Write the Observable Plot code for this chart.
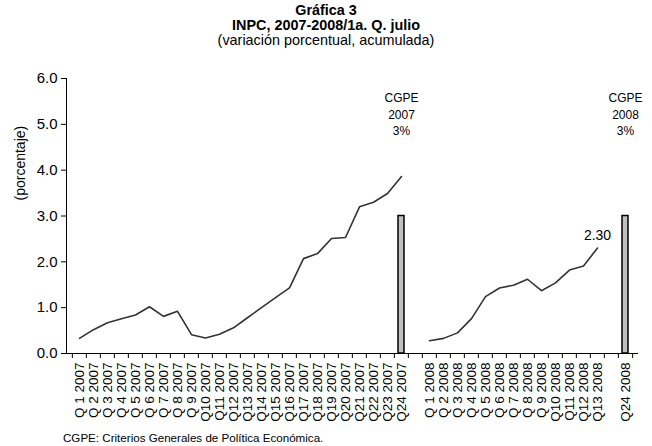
<!DOCTYPE html>
<html>
<head>
<meta charset="utf-8">
<script src="https://cdn.jsdelivr.net/npm/d3@7"></script>
<script src="https://cdn.jsdelivr.net/npm/@observablehq/plot@0.6"></script>
<style>
  html, body { margin: 0; padding: 0; background: #fff; }
  body { width: 652px; height: 446px; overflow: hidden; font-family: "Liberation Sans", Arial, sans-serif; color: #000; }
  #title { padding-top: 2.5px; height: 45.5px; text-align: center; font-size: 14.4px; line-height: 15px; white-space: nowrap; }
  #title .b { font-weight: bold; }
  #caption { font-size: 11.6px; line-height: 15px; padding-left: 63px; white-space: nowrap; }
  svg { display: block; }
</style>
</head>
<body>
<div id="title">
  <div class="b">Gráfica 3</div>
  <div class="b">INPC, 2007-2008/1a. Q. julio</div>
  <div>(variación porcentual, acumulada)</div>
</div>
<div id="chart"></div>
<div id="caption">CGPE: Criterios Generales de Política Económica.</div>
<script>
// Category axis (tick labels); blanks are spacer slots
const categories = [
  "Q 1 2007","Q 2 2007","Q 3 2007","Q 4 2007","Q 5 2007","Q 6 2007","Q 7 2007","Q 8 2007","Q 9 2007","Q10 2007",
  "Q11 2007","Q12 2007","Q13 2007","Q14 2007","Q15 2007","Q16 2007","Q17 2007","Q18 2007","Q19 2007","Q20 2007",
  "Q21 2007","Q22 2007","Q23 2007","Q24 2007"," ",
  "Q 1 2008","Q 2 2008","Q 3 2008","Q 4 2008","Q 5 2008","Q 6 2008","Q 7 2008","Q 8 2008","Q 9 2008","Q10 2008",
  "Q11 2008","Q12 2008","Q13 2008","  ","Q24 2008"
];

// INPC 2007, accumulated % change
const labels2007 = [
  "Q 1 2007","Q 2 2007","Q 3 2007","Q 4 2007","Q 5 2007","Q 6 2007","Q 7 2007","Q 8 2007","Q 9 2007","Q10 2007",
  "Q11 2007","Q12 2007","Q13 2007","Q14 2007","Q15 2007","Q16 2007","Q17 2007","Q18 2007","Q19 2007","Q20 2007",
  "Q21 2007","Q22 2007","Q23 2007","Q24 2007"
];
const values2007 = [0.33,0.52,0.67,0.76,0.84,1.02,0.81,0.92,0.41,0.34,0.42,0.56,0.78,1.00,1.22,1.43,2.07,2.18,2.51,2.53,3.20,3.30,3.49,3.86];

// INPC 2008, accumulated % change
const labels2008 = [
  "Q 1 2008","Q 2 2008","Q 3 2008","Q 4 2008","Q 5 2008","Q 6 2008","Q 7 2008","Q 8 2008","Q 9 2008","Q10 2008",
  "Q11 2008","Q12 2008","Q13 2008"
];
const values2008 = [0.28,0.33,0.45,0.76,1.24,1.43,1.49,1.62,1.37,1.54,1.82,1.91,2.30];

// CGPE targets
const cgpeLabels = ["Q24 2007","Q24 2008"];
const cgpeValues = [3,3];
const cgpeTexts = ["CGPE\n2007\n3%","CGPE\n2008\n3%"];

const yTicks = [0,1,2,3,4,5,6];

const s2007 = labels2007.map((c,i) => ({cat: c, v: values2007[i]}));
const s2008 = labels2008.map((c,i) => ({cat: c, v: values2008[i]}));
const cgpe = cgpeLabels.map((c,i) => ({cat: c, v: cgpeValues[i], t: cgpeTexts[i]}));
const last2008 = [s2008[s2008.length - 1]];

const W = 652, H = 382, ML = 66, MR = 14, MT = 30, MB = 77;
const step = (W - ML - MR) / categories.length;
const font = "Liberation Sans, Arial, sans-serif";

const chart = Plot.plot({
  width: W, height: H,
  marginLeft: ML, marginRight: MR, marginTop: MT, marginBottom: MB,
  style: {fontFamily: font, fontSize: "13px", color: "#000", background: "#fff"},
  x: {type: "band", domain: categories, padding: 0},
  y: {domain: [0, 6]},
  marks: [
    Plot.barY(cgpe, {x: "cat", y: "v", fill: "#c0c0c0", stroke: "#000", strokeWidth: 1.5, insetLeft: 4, insetRight: 4}),
    Plot.lineY(s2007, {x: "cat", y: "v", stroke: "#333", strokeWidth: 1.6}),
    Plot.lineY(s2008, {x: "cat", y: "v", stroke: "#333", strokeWidth: 1.6}),
    Plot.text(last2008, {x: "cat", y: "v", text: d => d.v.toFixed(2), dy: -13, fontSize: 14, fill: "#000"}),
    Plot.text(cgpe, {x: "cat", text: "t", frameAnchor: "top", lineAnchor: "middle", dy: 35, lineHeight: 1.375, fontSize: 12, fill: "#000"}),
    Plot.ruleY([0], {stroke: "#000", strokeWidth: 1}),
    Plot.frame({anchor: "left", stroke: "#000"}),
    Plot.axisY({ticks: yTicks, tickFormat: d3.format(".1f"), tickSize: 5, tickPadding: 4, label: null, fontSize: 15, stroke: "#000"}),
    Plot.text(["(porcentaje)"], {frameAnchor: "left", dx: -46, dy: -15.5, rotate: -90, fontSize: 14, fill: "#000"}),
    Plot.axisX({ticks: categories, tickSize: 5, tickFormat: () => "", label: null, dx: -step / 2, stroke: "#000"}),
    Plot.axisX({ticks: [categories[categories.length - 1]], tickSize: 5, tickFormat: () => "", label: null, dx: step / 2, stroke: "#000"}),
    Plot.axisX({ticks: categories, tickSize: 0, tickPadding: 9, tickRotate: -90, tickFormat: d => d.trim() ? d : "", label: null, fontSize: 13.5, fill: "#000"})
  ]
});
document.getElementById("chart").appendChild(chart);
</script>
</body>
</html>
